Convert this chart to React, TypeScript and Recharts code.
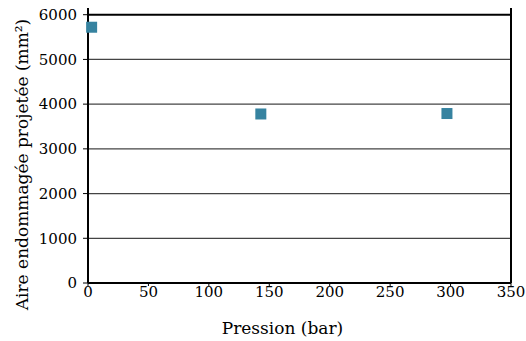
import React from 'react';
import { ScatterChart, Scatter, XAxis, YAxis, ReferenceLine } from 'recharts';

const pressures = [3, 143, 297];
const areas = [5720, 3780, 3790];
const xTicks = [0, 50, 100, 150, 200, 250, 300, 350];
const yTicks = [0, 1000, 2000, 3000, 4000, 5000, 6000];

const data = pressures.map((p, i) => ({ p, a: areas[i] }));

const font = 'DejaVu Serif';

const SquareMark = (props: any) => {
  const { cx, cy } = props;
  if (cx == null || cy == null) return null;
  return <rect x={cx - 5.5} y={cy - 5.5} width={11} height={11} fill="#3683a0" />;
};

export default function App() {
  return (
    <div style={{ fontFamily: font, width: 526, height: 341 }}>
      <style>{`html, body { margin: 0; padding: 0; overflow: hidden; }`}</style>
      <ScatterChart width={526} height={341} margin={{ top: 8, right: 15, bottom: 0, left: 8 }}>
        <XAxis
          type="number"
          dataKey="p"
          domain={[0, 350]}
          ticks={xTicks}
          height={58}
          tickSize={3}
          tickMargin={0}
          stroke="#000"
          strokeWidth={2}
          tick={{ fill: '#000', fontSize: 15, fontFamily: font }}
          tickLine={{ stroke: '#000', strokeWidth: 1 }}
          label={{ value: 'Pression (bar)', position: 'insideBottom', offset: 7, dx: -17, fill: '#000', fontSize: 17, fontFamily: font }}
        />
        <YAxis
          type="number"
          dataKey="a"
          domain={[0, 6150]}
          ticks={yTicks}
          width={80}
          tickSize={5}
          tickMargin={6}
          stroke="#000"
          strokeWidth={2}
          tick={{ fill: '#000', fontSize: 15, fontFamily: font }}
          tickLine={{ stroke: '#000', strokeWidth: 1 }}
          label={{ value: 'Aire endommagée projetée (mm²)', angle: -90, position: 'center', dx: -26, dy: 19, fill: '#000', fontSize: 17, fontFamily: font }}
        />
        {yTicks.slice(1, -1).map((t) => (
          <ReferenceLine key={t} y={t} stroke="#444" strokeWidth={1.2} />
        ))}
        <ReferenceLine y={6000} stroke="#000" strokeWidth={2} />
        <ReferenceLine x={350} stroke="#000" strokeWidth={2} />
        <Scatter data={data} fill="#3683a0" shape={SquareMark} isAnimationActive={false} />
      </ScatterChart>
    </div>
  );
}
